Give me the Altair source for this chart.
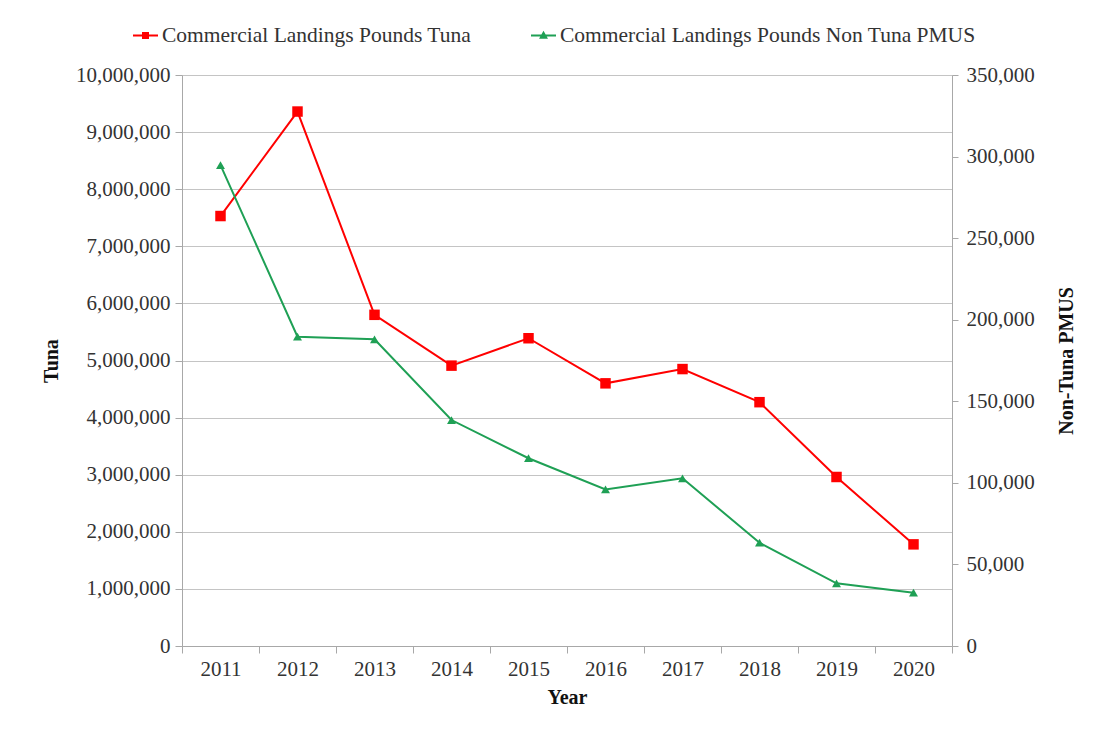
import altair as alt
import pandas as pd

years = ["2011", "2012", "2013", "2014", "2015", "2016", "2017", "2018", "2019", "2020"]
tuna = [7530000, 9360000, 5800000, 4910000, 5390000, 4600000, 4850000, 4270000, 2960000, 1780000]
non_tuna = [294800, 189600, 188000, 138500, 115100, 96000, 102800, 63300, 38400, 32700]

series_names = ["Commercial Landings Pounds Tuna", "Commercial Landings Pounds Non Tuna PMUS"]
series_colors = ["#FF0000", "#1FA055"]
left_ticks = [0, 1000000, 2000000, 3000000, 4000000, 5000000, 6000000, 7000000, 8000000, 9000000, 10000000]
right_ticks = [0, 50000, 100000, 150000, 200000, 250000, 300000, 350000]

df_tuna = pd.DataFrame({"year": years, "value": tuna, "series": series_names[0]})
df_non = pd.DataFrame({"year": years, "value": non_tuna, "series": series_names[1]})

FONT = "Liberation Serif"
GRID = "#c4c4c4"
AX = "#a8a8a8"
LBL = 21

x_enc = alt.X(
    "year:O",
    scale=alt.Scale(type="band", paddingInner=0, paddingOuter=0),
    bandPosition=0.5,
    axis=alt.Axis(
        title="Year", labelAngle=0, tickBand="extent", grid=False,
        domainColor=AX, tickColor=AX, tickSize=7,
        labelFont=FONT, labelFontSize=LBL, labelColor="#333333", labelPadding=5,
        titleFont=FONT, titleFontSize=20, titleFontWeight="bold", titleColor="#111111", titlePadding=8,
    ),
)

y_left = alt.Y(
    "value:Q",
    scale=alt.Scale(domain=[0, 10000000], nice=False),
    axis=alt.Axis(
        title="Tuna", values=left_ticks, format=",d", grid=True, gridColor=GRID,
        domainColor=AX, tickColor=AX, tickSize=7,
        labelFont=FONT, labelFontSize=LBL, labelColor="#333333", labelPadding=5,
        titleFont=FONT, titleFontSize=20, titleFontWeight="bold", titleColor="#111111", titlePadding=14,
    ),
)

y_right = alt.Y(
    "value:Q",
    scale=alt.Scale(domain=[0, 350000], nice=False),
    axis=alt.Axis(
        orient="right", title="Non-Tuna PMUS", values=right_ticks, format=",d", grid=False,
        domainColor=AX, tickColor=AX, tickSize=6,
        labelFont=FONT, labelFontSize=LBL, labelColor="#333333", labelPadding=8,
        titleFont=FONT, titleFontSize=20, titleFontWeight="bold", titleColor="#111111",
        titleAngle=270, titlePadding=42,
    ),
)

path_square = "M-1,0H1M-0.2,-0.2H0.2V0.2H-0.2Z"
path_tri = "M-1,0H1M0,-0.22L0.22,0.17L-0.22,0.17Z"

legend = alt.Legend(
    title=None, orient="none", legendX=-50, legendY=-53, direction="horizontal",
    symbolSize=625, symbolStrokeWidth=2, symbolOpacity=1,
    labelFont=FONT, labelFontSize=21.5, labelColor="#333333", labelLimit=700,
    labelOffset=3, columnPadding=55,
)

legend_layer = alt.Chart(df_tuna).transform_filter("false").mark_point(filled=True, opacity=1).encode(
    x=x_enc, y=y_left,
    color=alt.Color("series:N", scale=alt.Scale(domain=series_names, range=series_colors), legend=legend),
    stroke=alt.Stroke("series:N", scale=alt.Scale(domain=series_names, range=series_colors), legend=legend),
    shape=alt.Shape("series:N", scale=alt.Scale(domain=series_names, range=[path_square, path_tri]), legend=legend),
)

tuna_base = alt.Chart(df_tuna).encode(x=x_enc, y=y_left)
tuna_line = tuna_base.mark_line(color=series_colors[0], strokeWidth=2)
tuna_pts = tuna_base.mark_point(shape="square", filled=True, size=110, color=series_colors[0], opacity=1)

non_base = alt.Chart(df_non).encode(x=x_enc, y=y_right)
non_line = non_base.mark_line(color=series_colors[1], strokeWidth=2)
non_pts = non_base.mark_point(shape="triangle-up", filled=True, size=80, color=series_colors[1], opacity=1)

left = alt.layer(tuna_line, tuna_pts, legend_layer)
right = alt.layer(non_line, non_pts)

chart = alt.layer(left, right).resolve_scale(y="independent").properties(
    width=770, height=571,
    autosize=alt.AutoSizeParams(type="none"),
    padding={"left": 174, "top": 67, "right": 125, "bottom": 75},
).configure_view(stroke=None).configure(background="white")

chart.save("out.html", embed_options={"renderer": "svg", "actions": False})
